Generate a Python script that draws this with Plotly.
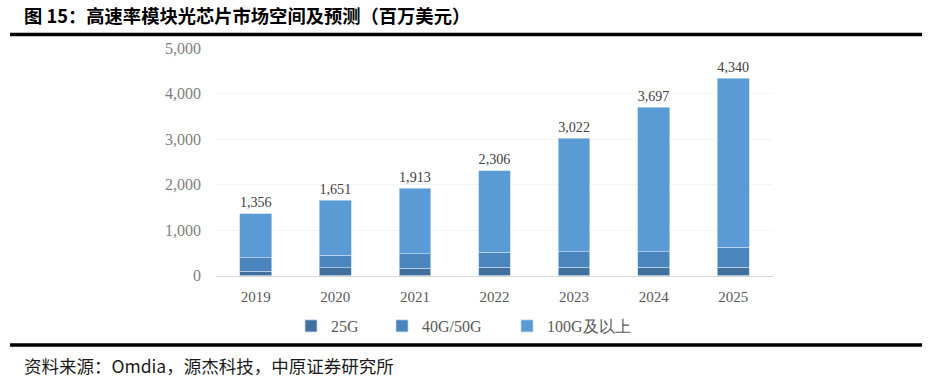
import plotly.graph_objects as go

years = ["2019", "2020", "2021", "2022", "2023", "2024", "2025"]
totals = [1356, 1651, 1913, 2306, 3022, 3697, 4340]
g25 = [90, 165, 160, 180, 180, 180, 180]
g40_50 = [295, 280, 315, 330, 345, 345, 445]
g100 = [t - a - b for t, a, b in zip(totals, g25, g40_50)]
total_labels = [f"{v:,}" for v in totals]
y_ticks = [0, 1000, 2000, 3000, 4000, 5000]
y_tick_text = [f"{v:,}" for v in y_ticks]

W, H = 936, 378


def px(x):
    return x / W


def py(y):
    return 1 - y / H


x0, x1 = 216, 773
y_top, y_base = 48, 275.5

serif = "Liberation Serif, Times New Roman, serif"
cjk = "Noto Sans CJK SC"

edge = dict(color="rgba(190,215,240,0.9)", width=0.8)

fig = go.Figure()
fig.add_trace(go.Bar(name="25G", x=years, y=g25, legend="legend",
                     marker=dict(color="#41709c", line=edge)))
fig.add_trace(go.Bar(name="40G/50G", x=years, y=g40_50, legend="legend2",
                     marker=dict(color="#4b85bd", line=edge)))
fig.add_trace(go.Bar(name="100G及以上", x=years, y=g100, legend="legend3",
                     marker=dict(color="#5b9bd5", line=edge),
                     text=total_labels, textposition="outside", cliponaxis=False,
                     textfont=dict(family=serif, size=17, color="#404040")))

leg_font = dict(family=serif, size=16, color="#595959")


def leg(x):
    return dict(orientation="h", x=px(x), xanchor="left", y=py(326), yanchor="middle",
                font=leg_font, itemwidth=30, bgcolor="rgba(0,0,0,0)")


fig.update_layout(
    width=W, height=H, barmode="stack", bargap=0.6,
    margin=dict(l=0, r=0, t=0, b=0, autoexpand=False),
    plot_bgcolor="white", paper_bgcolor="white",
    showlegend=True,
    legend=leg(291), legend2=leg(382), legend3=leg(507),
    xaxis=dict(domain=[px(x0), px(x1)], showgrid=False, showline=True, linecolor="#d9d9d9",
               linewidth=1, ticks="outside", ticklen=7, tickcolor="rgba(0,0,0,0)",
               automargin=False,
               tickfont=dict(family=serif, size=15, color="#595959")),
    yaxis=dict(domain=[py(y_base), py(y_top)], range=[0, 5000],
               tickvals=y_ticks, ticktext=y_tick_text, automargin=False,
               showgrid=True, gridcolor="#f4f4f4", gridwidth=1, zeroline=False,
               ticklabelstandoff=14,
               tickfont=dict(family=serif, size=16, color="#808080")),
    font=dict(family=cjk),
)

fig.add_annotation(text="图 15：高速率模块光芯片市场空间及预测（百万美元）", xref="paper", yref="paper",
                   x=px(22), y=py(0.5), xanchor="left", yanchor="top", showarrow=False,
                   font=dict(family=cjk, size=18.3, color="#000000", weight="bold"))
fig.add_shape(type="line", xref="paper", yref="paper", x0=px(10), x1=px(922),
              y0=py(34.5), y1=py(34.5), line=dict(color="#000000", width=3.5))
fig.add_shape(type="line", xref="paper", yref="paper", x0=px(10), x1=px(922),
              y0=py(345), y1=py(345), line=dict(color="#000000", width=3.5))
fig.add_annotation(text="资料来源：Omdia，源杰科技，中原证券研究所", xref="paper", yref="paper",
                   x=px(22), y=py(365), xanchor="left", yanchor="middle", showarrow=False,
                   font=dict(family=cjk, size=17.5, color="#1a1a1a"))

fig.write_html("out.html", config={"displayModeBar": False},
               post_script="document.body.style.margin='0';")
